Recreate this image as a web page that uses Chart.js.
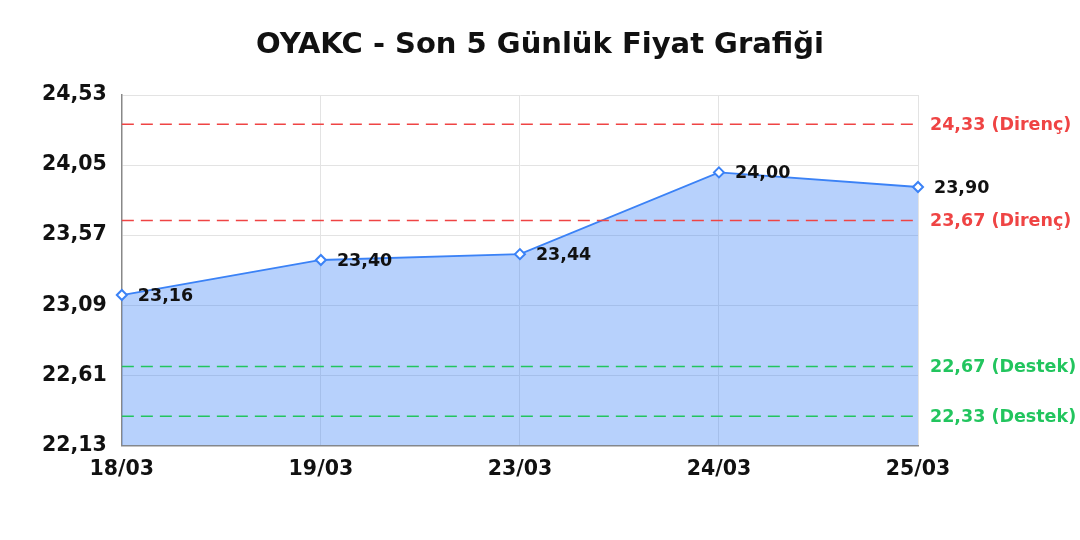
<!DOCTYPE html>
<html>
<head>
<meta charset="utf-8">
<script src="https://cdn.jsdelivr.net/npm/chart.js@4.4.1/dist/chart.umd.min.js"></script>
<style>
  html, body { margin: 0; padding: 0; background: #fff; }
  #wrap { width: 1080px; height: 540px; }
</style>
</head>
<body>
<div id="wrap"><canvas id="c"></canvas></div>
<script>
const TITLE = "OYAKC - Son 5 Günlük Fiyat Grafiği";
const dates = ["18/03", "19/03", "23/03", "24/03", "25/03"];
const prices = [23.16, 23.40, 23.44, 24.00, 23.90];
const yTicks = [22.13, 22.61, 23.09, 23.57, 24.05, 24.53];
const resistance = [24.33, 23.67];
const support = [22.67, 22.33];

const FONT = "'DejaVu Sans', sans-serif";
const RED = "#ef4444";
const GREEN = "#22c55e";
const BLUE = "#3b82f6";

Chart.defaults.font.family = FONT;

const fmt = (v) => v.toFixed(2).replace(".", ",");

// title centred on the whole canvas, not on the plot
const pageTitlePlugin = {
  id: "pageTitle",
  afterDraw(chart) {
    const { ctx, width } = chart;
    ctx.save();
    ctx.font = `bold 29px ${FONT}`;
    ctx.fillStyle = "#111";
    ctx.textAlign = "center";
    ctx.textBaseline = "middle";
    ctx.fillText(TITLE, width / 2, 45);
    ctx.restore();
  },
};

// dashed support / resistance lines plus their labels on the right
const levelLinesPlugin = {
  id: "levelLines",
  afterDatasetsDraw(chart) {
    const { ctx, chartArea } = chart;
    const y = chart.scales.y;
    const levels = [
      ...resistance.map((v) => ({ v, color: RED, text: `${fmt(v)} (Direnç)` })),
      ...support.map((v) => ({ v, color: GREEN, text: `${fmt(v)} (Destek)` })),
    ];
    levels.forEach((l) => {
      const py = y.getPixelForValue(l.v);
      ctx.save();
      ctx.strokeStyle = l.color;
      ctx.lineWidth = 1.5;
      ctx.setLineDash([12, 7]);
      ctx.beginPath();
      ctx.moveTo(chartArea.left, py);
      ctx.lineTo(chartArea.right, py);
      ctx.stroke();
      ctx.restore();
      ctx.save();
      ctx.fillStyle = l.color;
      ctx.font = `bold 17.5px ${FONT}`;
      ctx.textAlign = "left";
      ctx.textBaseline = "middle";
      ctx.fillText(l.text, chartArea.right + 12, py + 1);
      ctx.restore();
    });
  },
};

// value next to each point
const pointLabelsPlugin = {
  id: "pointLabels",
  afterDraw(chart) {
    const { ctx } = chart;
    const meta = chart.getDatasetMeta(0);
    ctx.save();
    ctx.font = `bold 17.5px ${FONT}`;
    ctx.fillStyle = "#111";
    ctx.textAlign = "left";
    ctx.textBaseline = "middle";
    meta.data.forEach((pt, i) => {
      ctx.fillText(fmt(prices[i]), pt.x + 16, pt.y + 1);
    });
    ctx.restore();
  },
};

new Chart(document.getElementById("c"), {
  type: "line",
  data: {
    labels: dates,
    datasets: [
      {
        data: prices,
        borderColor: BLUE,
        borderWidth: 1.8,
        backgroundColor: "rgba(59, 130, 246, 0.37)",
        fill: "start",
        tension: 0,
        pointStyle: "rectRot",
        pointRadius: 5,
        pointBorderWidth: 2,
        pointBackgroundColor: "#fff",
        pointBorderColor: BLUE,
      },
    ],
  },
  options: {
    responsive: true,
    maintainAspectRatio: false,
    animation: false,
    layout: { padding: { top: 95, right: 162, bottom: 46, left: 27 } },
    plugins: {
      legend: { display: false },
      tooltip: { enabled: false },
      title: { display: false },
    },
    scales: {
      x: {
        offset: false,
        grid: { color: "#e3e3e3", drawTicks: false },
        border: { color: "#888", width: 1.5 },
        ticks: {
          color: "#111",
          padding: 12,
          maxRotation: 0,
          font: { size: 20.5, weight: "bold" },
        },
      },
      y: {
        min: yTicks[0],
        max: yTicks[yTicks.length - 1],
        afterBuildTicks(scale) {
          scale.ticks = yTicks.map((v) => ({ value: v }));
        },
        grid: { color: "#e3e3e3", drawTicks: false },
        border: { color: "#888", width: 1.5 },
        ticks: {
          color: "#111",
          padding: 15,
          callback: (v) => fmt(v),
          font: { size: 20.5, weight: "bold" },
        },
      },
    },
  },
  plugins: [levelLinesPlugin, pointLabelsPlugin, pageTitlePlugin],
});
</script>
</body>
</html>
